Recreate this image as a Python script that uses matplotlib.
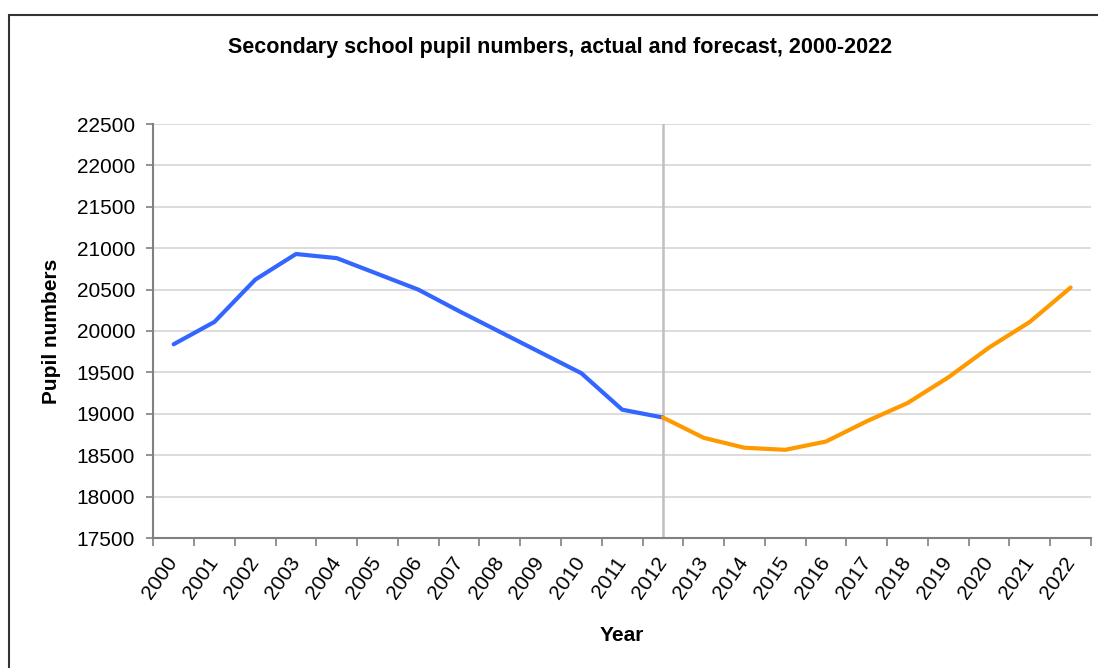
import matplotlib
matplotlib.use("Agg")
import matplotlib.pyplot as plt
from matplotlib.patches import Rectangle

years = [str(y) for y in range(2000, 2023)]
actual_years = years[:13]
actual = [19840, 20110, 20620, 20930, 20880, 20690, 20500, 20240, 19990,
          19740, 19490, 19050, 18955]
forecast_years = years[12:]
forecast = [18955, 18710, 18590, 18565, 18665, 18910, 19130, 19440, 19800,
            20110, 20525]
y_ticks = list(range(17500, 23000, 500))

plt.rcParams['font.family'] = ['Liberation Sans', 'DejaVu Sans']

fig = plt.figure(figsize=(10.98, 6.68), dpi=100)
W, H = 1098, 668
ax = fig.add_axes([153.3 / W, 1 - 538 / H, (1091 - 153.3) / W, (538 - 124) / H])

xa = [years.index(y) for y in actual_years]
xf = [years.index(y) for y in forecast_years]

ax.axvline(years.index('2012'), color='#C0C0C0', lw=1.8, zorder=2)
ax.plot(xa, actual, color='#3366FF', lw=3, zorder=3, solid_capstyle='round')
ax.plot(xf, forecast, color='#FF9900', lw=3, zorder=3, solid_capstyle='round')

ax.set_xlim(-0.5, len(years) - 0.5)
ax.set_ylim(y_ticks[0], y_ticks[-1])
ax.set_yticks(y_ticks)
ax.set_yticklabels([str(v) for v in y_ticks], fontsize=15)
ax.set_xticks(range(len(years)))
ax.set_xticklabels(years, fontsize=15, rotation=55, ha='right',
                   va='center', rotation_mode='anchor')
ax.set_xticks([i - 0.5 for i in range(len(years) + 1)], minor=True)
ax.tick_params(axis='x', which='major', length=0, pad=15)
ax.tick_params(axis='x', which='minor', length=6, color='#808080', width=1.2, direction='out')
ax.tick_params(axis='y', length=5, color='#808080', width=1.2, pad=8)

ax.yaxis.grid(True, color='#D9D9D9', lw=1.3)
ax.set_axisbelow(True)
for s in ['top', 'right']:
    ax.spines[s].set_visible(False)
for s in ['left', 'bottom']:
    ax.spines[s].set_color('#808080')
    ax.spines[s].set_linewidth(1.5)

ax.set_xlabel('Year', fontsize=15, fontweight='bold', labelpad=17)
ax.set_ylabel('Pupil numbers', fontsize=15, fontweight='bold', labelpad=11)

fig.text(560 / W, 1 - 47 / H, 'Secondary school pupil numbers, actual and forecast, 2000-2022',
         ha='center', va='center', fontsize=15.5, fontweight='bold')

fig.patches.append(Rectangle((9 / W, -0.1), 1.2, 1 - 15 / H + 0.1, transform=fig.transFigure,
                             fill=False, edgecolor='#333333', lw=1.5))

fig.savefig('out.png', dpi=100)
